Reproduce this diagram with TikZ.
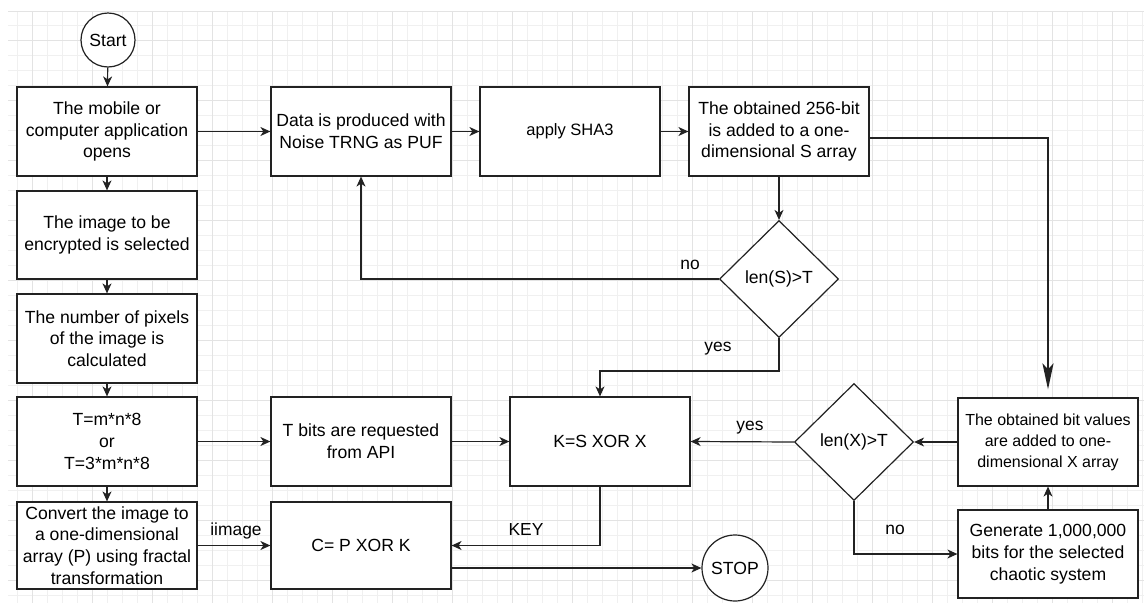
\documentclass[tikz,border=0pt]{standalone}
\usepackage{fontspec}
\setmainfont{Liberation Sans}
\usetikzlibrary{shapes.geometric,arrows.meta,calc}
\definecolor{ink}{HTML}{222222}
\definecolor{gridminor}{HTML}{F0F0F0}
\definecolor{gridmajor}{HTML}{E3E3E3}
\tikzset{
  base/.style={draw=ink, line width=1.2pt, fill=white, align=center,
    font=\fontsize{17.6}{21.7}\selectfont, inner sep=1pt},
  proc/.style={base, rectangle, minimum width=180pt, minimum height=89pt},
  term/.style={base, circle, inner sep=0pt},
  decide/.style={base, diamond, minimum width=119pt, minimum height=117pt, inner sep=0pt},
  flow/.style={draw=ink, line width=1.2pt, -{Stealth[length=10pt,width=9pt,inset=3pt]}},
  bigflow/.style={draw=ink, line width=2.4pt, -{Stealth[length=26pt,width=11pt,inset=6pt]}},
  lbl/.style={font=\fontsize{17.4}{20}\selectfont, inner sep=0pt},
}
\begin{document}
\begin{tikzpicture}[x=1pt, y=-1pt]
  \useasboundingbox (0,0) rectangle (1144,603);
  \fill[white] (0,0) rectangle (1144,603);

  % background grid
  \foreach \x in {17,32,...,1142} {\draw[gridminor, line width=0.8pt] (\x,11) -- (\x,603);}
  \foreach \y in {25,40,...,602} {\draw[gridminor, line width=0.8pt] (8,\y) -- (1144,\y);}
  \foreach \x in {32,92,...,1142} {\draw[gridmajor, line width=0.8pt] (\x,11) -- (\x,603);}
  \foreach \y in {40,100,...,602} {\draw[gridmajor, line width=0.8pt] (8,\y) -- (1144,\y);}
  \draw[gridmajor, line width=1pt] (8,11) -- (1144,11);

  % left column
  \node[term, minimum size=54pt] (start) at (108,40) {Start};
  \node[proc] (b1) at (107,131.5) {The mobile or\\computer application\\opens};
  \node[proc, minimum height=88pt] (b2) at (107,235) {The image to be\\encrypted is selected};
  \node[proc] (b3) at (107,338.5) {The number of pixels\\of the image is\\calculated};
  \node[proc] (b4) at (107,441.5) {T=m*n*8\\or\\T=3*m*n*8};
  \node[proc, minimum height=87pt] (b5) at (107,545.5) {Convert the image to\\a one-dimensional\\array (P) using fractal\\transformation};

  % top row
  \node[proc] (data) at (361,131.5) {Data is produced with\\Noise TRNG as PUF};
  \node[proc, font=\fontsize{16.5}{21}\selectfont] (sha) at (570,131.5) {apply SHA3};
  \node[proc] (sarr) at (779,131.5) {The obtained 256-bit\\is added to a one-\\dimensional S array};
  \node[decide] (ds) at (779,279) {len(S)>T};

  % lower rows
  \node[proc] (tb) at (361,441.5) {T bits are requested\\from API};
  \node[proc] (kx) at (600,441.5) {K=S XOR X};
  \node[proc, minimum height=87pt] (cp) at (361,545.5) {C= P XOR K};
  \node[term, minimum size=66pt] (stop) at (735,568) {STOP};
  \node[decide] (dx) at (854,442) {len(X)>T};
  \node[proc, minimum height=88pt, font=\fontsize{16}{21}\selectfont] (xa) at (1048,442) {The obtained bit values\\are added to one-\\dimensional X array};
  \node[proc, minimum height=88pt] (gen) at (1048,554) {Generate 1,000,000\\bits for the selected\\chaotic system};

  % connectors
  \draw[flow] (start) -- (b1);
  \draw[flow] (b1) -- (b2);
  \draw[flow] (b2) -- (b3);
  \draw[flow] (b3) -- (b4);
  \draw[flow] (b4) -- (b5);
  \draw[flow] (b1) -- (data);
  \draw[flow] (data) -- (sha);
  \draw[flow] (sha) -- (sarr);
  \draw[flow] (sarr) -- (ds);
  \draw[flow] (ds.west) -| (data.south);
  \node[lbl] (lno1) at (690,265) {no};
  \coordinate (yesbend) at (779,371);
  \draw[flow] (ds.south) -- (yesbend) -| (kx.north);
  \node[lbl] (lyes1) at (718,349) {yes};
  \draw[bigflow, shorten >=8pt] ([yshift=-6.5pt]sarr.east) -| (xa.north);
  \draw[flow] (b4) -- (tb);
  \draw[flow] (tb) -- (kx);
  \draw[flow] (b5) -- (cp);
  \node[lbl] (limg) at (236,531) {iimage};
  \draw[flow] (kx.south) |- (cp.east);
  \node[lbl] (lkey) at (526,530) {KEY};
  \draw[flow] (cp.east |- stop.west) -- (stop.west);
  \draw[flow] (dx.west) -- (kx.east);
  \node[lbl] (lyes2) at (750,428) {yes};
  \draw[flow] (xa.west) -- (dx.east);
  \draw[flow] (gen) -- (xa);
  \draw[flow] (dx.south) |- (gen.west);
  \node[lbl] (lno2) at (895,530) {no};
\end{tikzpicture}
\end{document}
